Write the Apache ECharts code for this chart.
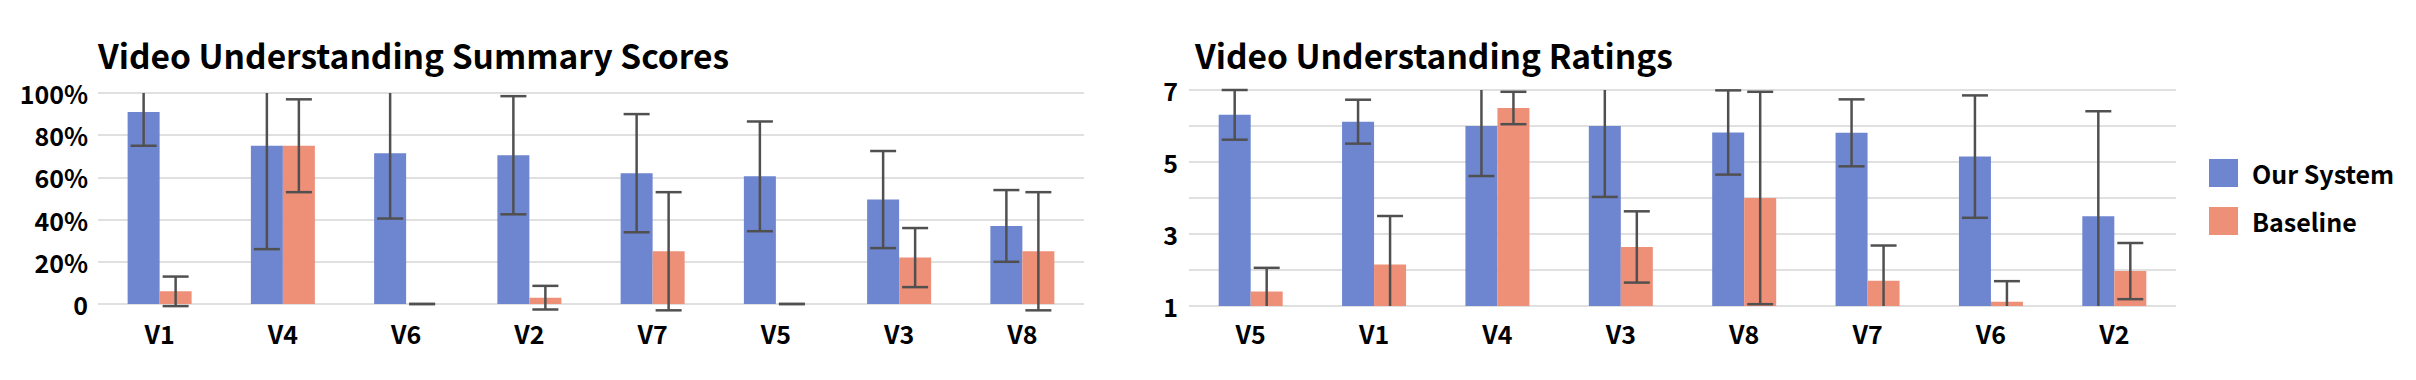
<!DOCTYPE html>
<html>
<head>
<meta charset="utf-8">
<script src="https://cdn.jsdelivr.net/npm/echarts@6/dist/echarts.min.js"></script>
<style>
  html, body { margin: 0; padding: 0; background: #fff; }
  #chart { width: 2416px; height: 380px; }
</style>
</head>
<body>
<div id="chart"></div>
<script>
// ---- Data ----
const seriesNames = ['Our System', 'Baseline'];

const summaryTitle = 'Video Understanding Summary Scores';
const summaryCategories = ['V1', 'V4', 'V6', 'V2', 'V7', 'V5', 'V3', 'V8'];
const summaryOurs = [91, 75, 71.5, 70.5, 62, 60.5, 49.5, 37];
const summaryOursErr = [16, 49, 31, 28, 28, 26, 23, 17];
const summaryBase = [6, 75, 0, 3, 25, 0, 22, 25];
const summaryBaseErr = [7, 22, 0, 5.6, 28, 0, 14, 28];

const ratingsTitle = 'Video Understanding Ratings';
const ratingsCategories = ['V5', 'V1', 'V4', 'V3', 'V8', 'V7', 'V6', 'V2'];
const ratingsOurs = [6.31, 6.12, 6.0, 6.0, 5.82, 5.81, 5.15, 3.49];
const ratingsOursErr = [0.69, 0.61, 1.39, 1.97, 1.17, 0.93, 1.7, 2.92];
const ratingsBase = [1.4, 2.15, 6.5, 2.64, 4.0, 1.7, 1.12, 1.97];
const ratingsBaseErr = [0.66, 1.35, 0.45, 0.99, 2.95, 0.98, 0.57, 0.78];

// ---- Styling ----
const FONT = '"Noto Sans CJK SC", "Source Sans Pro", "Noto Sans", sans-serif';
const BLUE = '#6E85CF';
const ORANGE = '#EE8F78';
const ERR = '#505050';
const GRIDLINE = '#d6d6d6';
const BAR_W = 32;
const CAP_HALF = 13;

function errorSeries(name, xi, yi, means, errs, offset, clipMin, clipMax) {
  return {
    type: 'custom',
    name: name,
    xAxisIndex: xi,
    yAxisIndex: yi,
    silent: true,
    z: 10,
    data: means.map((m, i) => [i, m, errs[i]]),
    renderItem: function (params, api) {
      const i = api.value(0), m = api.value(1), e = api.value(2);
      let lo = m - e, hi = m + e;
      let loCap = true, hiCap = true;
      if (clipMin != null && lo < clipMin) { lo = clipMin; loCap = false; }
      if (clipMax != null && hi > clipMax) { hi = clipMax; hiCap = false; }
      const pLo = api.coord([i, lo]);
      const pHi = api.coord([i, hi]);
      const x = pLo[0] + offset;
      const st = { stroke: ERR, lineWidth: 2.5 };
      const children = [{ type: 'line', shape: { x1: x, y1: pLo[1], x2: x, y2: pHi[1] }, style: st }];
      if (loCap) children.push({ type: 'line', shape: { x1: x - CAP_HALF, y1: pLo[1], x2: x + CAP_HALF, y2: pLo[1] }, style: st });
      if (hiCap) children.push({ type: 'line', shape: { x1: x - CAP_HALF, y1: pHi[1], x2: x + CAP_HALF, y2: pHi[1] }, style: st });
      return { type: 'group', children: children };
    }
  };
}

const axisLabelStyle = { color: '#000', fontFamily: FONT, fontWeight: 'bold', fontSize: 25 };
const titleStyle = { fontFamily: FONT, fontWeight: 'bold', fontSize: 33.5, color: '#000' };

const option = {
  backgroundColor: '#fff',
  animation: false,
  textStyle: { fontFamily: FONT },
  title: [
    { text: summaryTitle, left: 93, top: 33, textStyle: titleStyle },
    { text: ratingsTitle, left: 1190, top: 33, textStyle: titleStyle }
  ],
  legend: {
    data: seriesNames,
    orient: 'vertical',
    left: 2204,
    top: 154,
    itemWidth: 29,
    itemHeight: 28,
    itemGap: 20,
    icon: 'rect',
    textStyle: { fontFamily: FONT, fontWeight: 'bold', fontSize: 25, color: '#000', padding: [0, 0, 0, 9] }
  },
  grid: [
    { left: 98, right: 2416 - 1084, top: 93, bottom: 380 - 304 },
    { left: 1189, right: 2416 - 2176, top: 90, bottom: 380 - 306 }
  ],
  xAxis: [
    { type: 'category', gridIndex: 0, data: summaryCategories,
      axisLine: { show: false }, axisTick: { show: false },
      axisLabel: Object.assign({ margin: 16 }, axisLabelStyle) },
    { type: 'category', gridIndex: 1, data: ratingsCategories,
      axisLine: { show: false }, axisTick: { show: false },
      axisLabel: Object.assign({ margin: 14 }, axisLabelStyle) }
  ],
  yAxis: [
    { type: 'value', gridIndex: 0, min: 0, max: 100, interval: 20,
      axisLine: { show: false }, axisTick: { show: false },
      splitLine: { lineStyle: { color: GRIDLINE, width: 1.5 } },
      axisLabel: Object.assign({ margin: 10, formatter: v => v === 0 ? '0' : v + '%' }, axisLabelStyle) },
    { type: 'value', gridIndex: 1, min: 1, max: 7, interval: 1,
      axisLine: { show: false }, axisTick: { show: false },
      splitLine: { lineStyle: { color: GRIDLINE, width: 1.5 } },
      axisLabel: Object.assign({ margin: 11, formatter: v => (v % 2 === 1 ? String(v) : '') }, axisLabelStyle) }
  ],
  series: [
    { type: 'bar', name: seriesNames[0], xAxisIndex: 0, yAxisIndex: 0, data: summaryOurs, barWidth: BAR_W, barGap: '0%', itemStyle: { color: BLUE } },
    { type: 'bar', name: seriesNames[1], xAxisIndex: 0, yAxisIndex: 0, data: summaryBase, barWidth: BAR_W, barGap: '0%', itemStyle: { color: ORANGE } },
    { type: 'bar', name: seriesNames[0], xAxisIndex: 1, yAxisIndex: 1, data: ratingsOurs, barWidth: BAR_W, barGap: '0%', itemStyle: { color: BLUE } },
    { type: 'bar', name: seriesNames[1], xAxisIndex: 1, yAxisIndex: 1, data: ratingsBase, barWidth: BAR_W, barGap: '0%', itemStyle: { color: ORANGE } },
    errorSeries('err-s-ours', 0, 0, summaryOurs, summaryOursErr, -BAR_W / 2, null, 100),
    errorSeries('err-s-base', 0, 0, summaryBase, summaryBaseErr, BAR_W / 2, null, 100),
    errorSeries('err-r-ours', 1, 1, ratingsOurs, ratingsOursErr, -BAR_W / 2, 1, 7),
    errorSeries('err-r-base', 1, 1, ratingsBase, ratingsBaseErr, BAR_W / 2, 1, 7)
  ]
};

const chart = echarts.init(document.getElementById('chart'), null, { renderer: 'svg' });
chart.setOption(option);
</script>
</body>
</html>
